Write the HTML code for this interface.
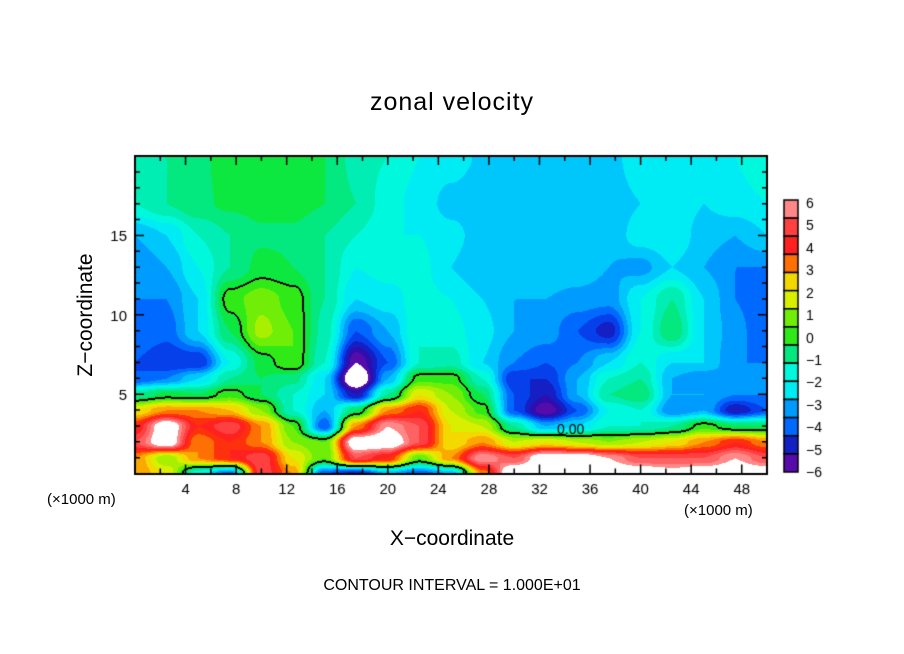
<!DOCTYPE html>
<html><head><meta charset="utf-8"><style>
body{margin:0;background:#fff;width:904px;height:654px;overflow:hidden;position:relative;font-family:"Liberation Sans",sans-serif}
.t{position:absolute;white-space:nowrap;color:#000}
</style></head><body>
<div class="t" style="left:0;width:904px;text-align:center;top:88px;font-size:25px;letter-spacing:1px">zonal velocity</div>
<div class="t" style="left:86px;top:315px;font-size:21px;transform:translate(-50%,-50%) rotate(-90deg)">Z−coordinate</div>
<div class="t" style="left:0;width:904px;text-align:center;top:527px;font-size:21px">X−coordinate</div>
<div class="t" style="left:47px;top:491px;font-size:15px">(×1000 m)</div>
<div class="t" style="left:684px;top:502px;font-size:15px">(×1000 m)</div>
<div class="t" style="left:0;width:904px;text-align:center;top:577px;font-size:16px">CONTOUR INTERVAL = 1.000E+01</div>
<canvas id="c" width="904" height="654" style="position:absolute;left:0;top:0"></canvas>
<script>
const xs=[0,2.5,5,7.5,10,12.5,15,17.5,20,22.5,25,27.5,30,32.5,35,37.5,40,42.5,45,47.5,50];
const zs=[0,1,2,3,4,5,6,7,9,11,13,15,17,20];
const rowZ0=[3,2,-2,-4,5,3,-4,-5,-3,-4,-3,3,7.5,7.5,7.5,7,7,6.5,7,7,7];
const rowZ1=[3,1,3,4,5,2,0.5,5,4,0.5,3,6,5,7,7,6,5,5,5,6,5];
const rowZ2=[5,7,3,4,3,1,0.5,7,7,5,2,3,1.5,2,1.5,1,1.5,2,3,4,3];
const rowZ3=[4,7,4,5,3,0.5,-4,3,6,5,2,1.5,-1,-3,-2.5,-1.5,-1.5,-1,0.3,-0.5,-0.5];
const rowZ4=[2,3,3,2.5,1,-1.5,-3,-0.5,3,4,1.5,0.3,-4,-6,-4,-2,-1.5,-3.5,-3,-5,-4];
const rowZ5=[-1,-0.3,-0.5,0.3,-0.5,-1.5,-2.5,-5,-1,2,1,-0.5,-4,-5,-3,-1,-0.5,-3,-3,-3.5,-3.5];
const rowZ6=[-4,-3.5,-2.5,-1,-0.5,-0.8,-2.5,-7.5,-3,0.3,0.3,-1.5,-4.5,-4.5,-3,-1.5,-1,-3,-3.5,-3,-3.5];
const rowZ7=[-4,-4.5,-4.5,-2,-0.3,0.5,-1.5,-6,-4,-1.5,-1.2,-2.5,-3.5,-4,-3.5,-2.5,-1.5,-2.5,-2.5,-3.5,-3.5];
const rowZ9=[-3.5,-3.8,-2.5,-0.5,1.2,0.5,-1.2,-4,-3,-1.5,-1.8,-2.3,-3,-3.2,-4,-4.8,-2,-0.5,-2.5,-3.3,-4];
const rowZ11=[-3.5,-3.5,-2.5,0.3,0.8,0.3,-1,-2.5,-2.2,-1.8,-2,-2.5,-3,-3,-3.2,-3.3,-2,-1,-2.5,-3.5,-4];
const rowZ13=[-3.5,-3,-2,-1,-0.3,-0.5,-1,-2,-1.8,-1.8,-2.5,-3,-3,-2.5,-2.6,-3,-3.2,-2.5,-3,-3.5,-3.5];
const rowZ15=[-3,-2.5,-1.5,-1,-0.6,-0.6,-1,-1.5,-2,-2,-2.3,-2.8,-2.9,-2.9,-2.9,-2.9,-2.2,-2,-2.8,-3,-2.5];
const rowZ17=[-1.5,-1,-0.6,-0.4,-0.3,-0.3,-0.5,-1,-1.8,-2.2,-2.7,-2.9,-2.9,-2.9,-2.9,-2.9,-2.5,-2,-2.5,-2.2,-2];
const rowZ20=[-1,-1,-0.6,-0.3,-0.2,-0.3,-0.5,-1.2,-1.5,-2,-2.2,-2.6,-2.9,-2.9,-2.9,-2.8,-2,-2,-2.5,-2,-1.5];
const grid=[rowZ0,rowZ1,rowZ2,rowZ3,rowZ4,rowZ5,rowZ6,rowZ7,rowZ9,rowZ11,rowZ13,rowZ15,rowZ17,rowZ20];
const cbarLabels=[6,5,4,3,2,1,0,-1,-2,-3,-4,-5,-6];
const L=135,R=767,T=156,B=473.5,X0=0,X1=50,Z0=0,Z1=20;
const sx=x=>L+(x-X0)/(X1-X0)*(R-L), sz=z=>B-(z-Z0)/(Z1-Z0)*(B-T);
const anchors=[[0x6a,0x0a,0xa8],[0x1a,0x10,0xb0],[0x00,0x50,0xff],[0x00,0xb4,0xff],[0x00,0xff,0xf0],[0x00,0xe8,0xa0],[0x10,0xe8,0x20],[0x90,0xf0,0x00],[0xf0,0xf0,0x00],[0xff,0x90,0x00],[0xff,0x10,0x10],[0xff,0x50,0x50],[0xff,0x9a,0x9a]];
function col(v){if(v>6||v<-6)return[255,255,255];let q=Math.min(5.75,Math.floor(v*2+1e-6)/2+0.25)+6;let i=Math.floor(q),f=q-i;if(i>=12){i=11;f=1}const a=anchors[i],b=anchors[i+1];return[a[0]+(b[0]-a[0])*f,a[1]+(b[1]-a[1])*f,a[2]+(b[2]-a[2])*f];}
function seg(arr,v){let i=0;while(i<arr.length-2&&v>arr[i+1])i++;return[i,(v-arr[i])/(arr[i+1]-arr[i])];}
const sm=t=>t*t*(3-2*t);
function val(x,z){let[i,fx]=seg(xs,x),[j,fz]=seg(zs,z);fx=sm(fx);fz=sm(fz);const a=grid[j][i],b=grid[j][i+1],c=grid[j+1][i],d=grid[j+1][i+1];return a*(1-fx)*(1-fz)+b*fx*(1-fz)+c*(1-fx)*fz+d*fx*fz;}
const cv=document.getElementById('c'),ctx=cv.getContext('2d');
const W=R-L,H=Math.round(B-T);
const img=ctx.createImageData(W,H);const V=[];
for(let py=0;py<H;py++){V[py]=[];for(let px=0;px<W;px++){const x=X0+(px+0.5)/W*(X1-X0),z=Z1-(py+0.5)/H*(Z1-Z0);V[py][px]=val(x,z);}}
for(let py=0;py<H;py++)for(let px=0;px<W;px++){const v=V[py][px];let c=col(v);
 const s=v>=0;let edge=false;for(const[dx,dy]of[[1,0],[0,1],[-1,0],[0,-1]]){const yy=py+dy,xx=px+dx;if(yy>=0&&yy<H&&xx>=0&&xx<W&&(V[yy][xx]>=0)!==s)edge=true;}
 if(edge)c=[0,0,0];const k=(py*W+px)*4;img.data[k]=c[0];img.data[k+1]=c[1];img.data[k+2]=c[2];img.data[k+3]=255;}
ctx.putImageData(img,L,T);
ctx.strokeStyle='#000';ctx.lineWidth=2;ctx.strokeRect(L,T,W,H);
ctx.lineWidth=1.5;ctx.fillStyle='#000';ctx.font='15px "Liberation Sans",sans-serif';ctx.textAlign='center';
for(let x=2;x<50;x+=2){const p=sx(x),len=x%4===0?9:5;ctx.beginPath();ctx.moveTo(p,B);ctx.lineTo(p,B-len);ctx.moveTo(p,T);ctx.lineTo(p,T+len);ctx.stroke();if(x%4===0)ctx.fillText(String(x),p,B+20);}
ctx.textAlign='right';
for(let z=1;z<20;z++){const p=sz(z),len=z%5===0?9:5;ctx.beginPath();ctx.moveTo(L,p);ctx.lineTo(L+len,p);ctx.moveTo(R,p);ctx.lineTo(R-len,p);ctx.stroke();if(z%5===0)ctx.fillText(String(z),L-8,p+6);}
ctx.textAlign='left';ctx.font='14px "Liberation Sans",sans-serif';
ctx.fillStyle='#000';ctx.fillText('0.00',557,434);
const cbT=200,cbB=472,n=15,bh=(cbB-cbT)/n;
for(let i=0;i<n;i++){const v=6-(i+0.5)*12/n;const c=col(v);ctx.fillStyle=`rgb(${c[0]|0},${c[1]|0},${c[2]|0})`;ctx.fillRect(784,cbT+i*bh,14,bh);ctx.strokeStyle='#000';ctx.lineWidth=1.5;ctx.strokeRect(784,cbT+i*bh,14,bh);}
ctx.fillStyle='#000';ctx.font='14px "Liberation Sans",sans-serif';
cbarLabels.forEach((v,i)=>{const y=203+(472-203)*i/12;ctx.fillText(v<0?'−'+(-v):String(v),806,y+5);});
</script>
</body></html>
